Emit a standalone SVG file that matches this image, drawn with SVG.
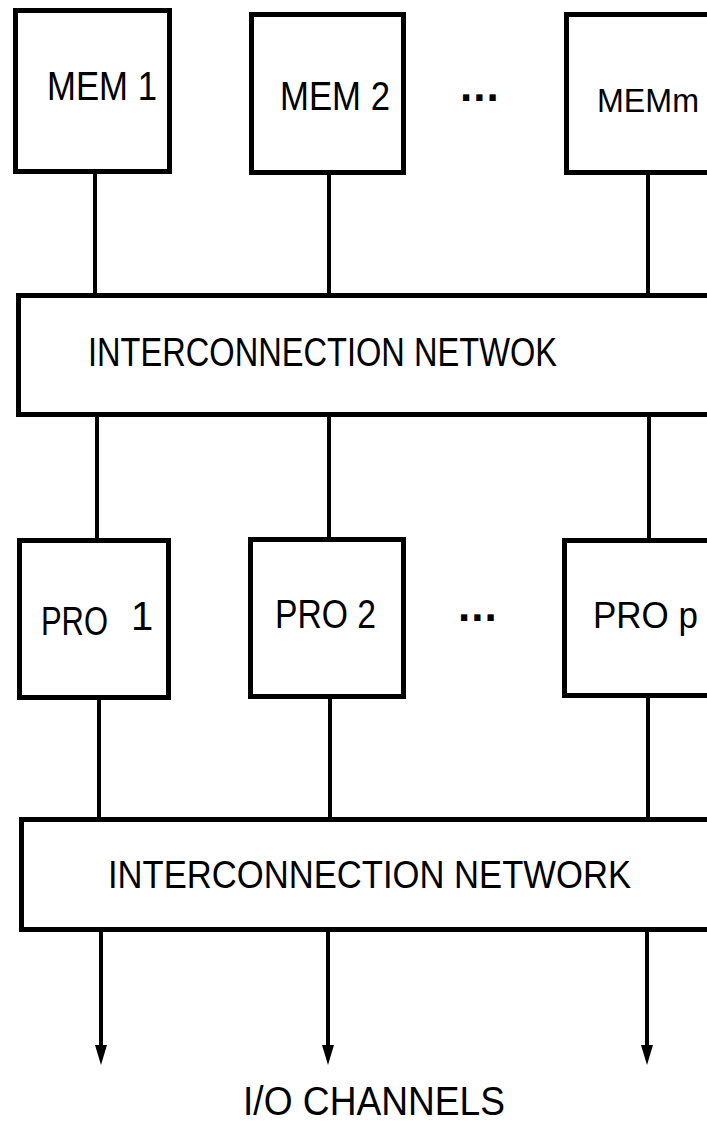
<svg xmlns="http://www.w3.org/2000/svg" width="707" height="1127" viewBox="0 0 707 1127">
<defs>
<style>
.box{fill:#fff;stroke:#000;stroke-width:5}
.wire{stroke:#000;stroke-width:4;fill:none}
.lbl{font-family:"Liberation Sans","DejaVu Sans",sans-serif;fill:#000;font-size:40px}
.dots{font-family:"Liberation Sans","DejaVu Sans",sans-serif;font-weight:bold;fill:#000;font-size:44px;letter-spacing:1px}
.head{fill:#000}
</style>
</defs>
<rect width="707" height="1127" fill="#fff"/>
<g id="connectors">
<line class="wire" x1="95" y1="172" x2="95" y2="295"/>
<line class="wire" x1="329" y1="174" x2="329" y2="295"/>
<line class="wire" x1="648" y1="174" x2="648" y2="295"/>
<line class="wire" x1="97" y1="415" x2="97" y2="540"/>
<line class="wire" x1="329" y1="415" x2="329" y2="540"/>
<line class="wire" x1="649" y1="415" x2="649" y2="540"/>
<line class="wire" x1="99" y1="697" x2="99" y2="820"/>
<line class="wire" x1="330" y1="697" x2="330" y2="820"/>
<line class="wire" x1="648" y1="697" x2="648" y2="820"/>
<line class="wire" x1="101" y1="930" x2="101" y2="1046"/>
<path class="head" d="M95,1045 L107,1045 L101,1065 Z"/>
<line class="wire" x1="328" y1="930" x2="328" y2="1046"/>
<path class="head" d="M322,1045 L334,1045 L328,1065 Z"/>
<line class="wire" x1="647" y1="930" x2="647" y2="1046"/>
<path class="head" d="M641,1045 L653,1045 L647,1065 Z"/>
</g>
<g id="mem1">
<rect class="box" x="15.5" y="10.5" width="154" height="161"/>
<text class="lbl" x="47" y="100" textLength="110" lengthAdjust="spacingAndGlyphs">MEM 1</text>
</g>
<g id="mem2">
<rect class="box" x="251.5" y="14.5" width="152" height="158"/>
<text class="lbl" x="280" y="110" textLength="110" lengthAdjust="spacingAndGlyphs">MEM 2</text>
</g>
<g id="memdots">
<text class="dots" x="460" y="101">...</text>
</g>
<g id="memm">
<path class="box" d="M707,14.5 H566.5 V172.5 H707"/>
<text class="lbl" x="597" y="112" style="font-size:34px" textLength="102" lengthAdjust="spacingAndGlyphs">MEMm</text>
</g>
<g id="net1">
<path class="box" d="M707,295.5 H18.5 V414.5 H707"/>
<text class="lbl" x="88" y="366" textLength="469" lengthAdjust="spacingAndGlyphs">INTERCONNECTION NETWOK</text>
</g>
<g id="pro1">
<rect class="box" x="19.5" y="540.5" width="149" height="157"/>
<text class="lbl" x="41" y="635" textLength="67" lengthAdjust="spacingAndGlyphs">PRO</text>
<text class="lbl" x="131" y="630">1</text>
</g>
<g id="pro2">
<rect class="box" x="250.5" y="539.5" width="153" height="157"/>
<text class="lbl" x="275" y="628" textLength="101" lengthAdjust="spacingAndGlyphs">PRO 2</text>
</g>
<g id="prodots">
<text class="dots" x="458" y="621">...</text>
</g>
<g id="prop">
<path class="box" d="M707,540.5 H564.5 V695.5 H707"/>
<text class="lbl" x="593" y="628" style="font-size:37px" textLength="105" lengthAdjust="spacingAndGlyphs">PRO p</text>
</g>
<g id="net2">
<path class="box" d="M707,819.5 H21.5 V929.5 H707"/>
<text class="lbl" x="108" y="888" style="font-size:39px" textLength="523" lengthAdjust="spacingAndGlyphs">INTERCONNECTION NETWORK</text>
</g>
<g id="io">
<text class="lbl" x="243" y="1115" textLength="262" lengthAdjust="spacingAndGlyphs">I/O CHANNELS</text>
</g>
</svg>
